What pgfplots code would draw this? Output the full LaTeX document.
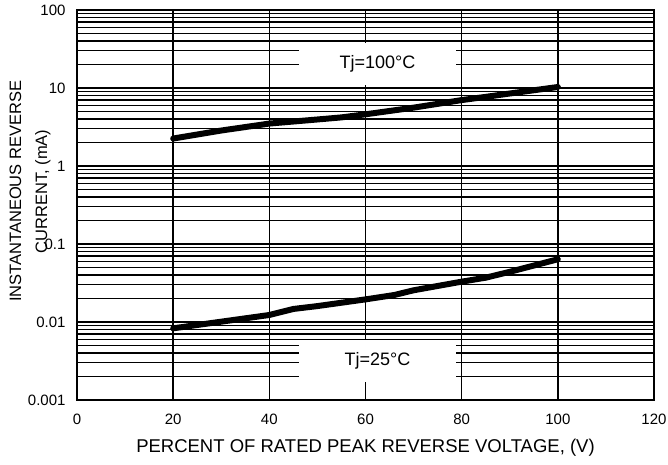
\documentclass[border=0pt]{standalone}
\usepackage{pgfplots}
\pgfplotsset{compat=1.18}
\usepackage{fontspec}
\setmainfont{Liberation Sans}

\begin{document}
\begin{tikzpicture}
\begin{axis}[%
name=ax,
scale only axis,
width=577bp, height=390bp,
ymode=log,
xmin=0, xmax=120,
ymin=0.001, ymax=100,
xtick={0,20,...,120},
ytick={0.001,0.01,0.1,1,10,100},
yticklabels={0.001,0.01,0.1,1,10,100},
minor ytick={0.002,0.003,0.004,0.005,0.006,0.007,0.008,0.009,
 0.02,0.03,0.04,0.05,0.06,0.07,0.08,0.09,
 0.2,0.3,0.4,0.5,0.6,0.7,0.8,0.9,
 2,3,4,5,6,7,8,9,
 20,30,40,50,60,70,80,90},
xmajorgrids, ymajorgrids, yminorgrids,
major grid style={black, line width=1.4pt},
minor grid style={black, line width=1.4pt},
axis line style={black, line width=2pt},
major tick length=0pt, minor tick length=0pt,
/pgf/number format/assume math mode=true,
tick label style={font=\fontsize{15bp}{17bp}\selectfont},
yticklabel style={xshift=-8bp},
xticklabel style={yshift=-11bp},
xlabel={PERCENT OF RATED PEAK REVERSE VOLTAGE, (V)},
xlabel style={font=\fontsize{18.5bp}{21bp}\selectfont, yshift=-7bp},
ylabel={INSTANTANEOUS REVERSE\\CURRENT, (mA)},
every axis y label/.style={at={(axis description cs:-0.0815,0.535)}, rotate=90,
 anchor=center, align=center,
 font=\fontsize{16.5bp}{26bp}\selectfont},
]
\addplot [black, line width=6pt, line cap=round, line join=round] coordinates {
(20,2.25) (30,2.85) (40,3.5) (50,3.95) (55,4.2) (60,4.6)
(70,5.6) (80,7.0) (85,7.7) (90,8.5) (100,10.3)
};
\addplot [black, line width=6pt, line cap=round, line join=round] coordinates {
(20,0.0083) (30,0.0101) (40,0.0123) (45,0.0147) (50,0.016) (60,0.0195)
(66,0.0222) (70,0.0255) (80,0.0329) (85,0.037) (90,0.044) (100,0.0637)
};
\node[fill=white, inner sep=0pt, minimum width=157bp, minimum height=42bp,
 font=\fontsize{18bp}{20bp}\selectfont] at (rel axis cs:0.5208,0.8615) {Tj=100°C};
\node[fill=white, inner sep=0pt, minimum width=157bp, minimum height=42bp,
 font=\fontsize{18bp}{20bp}\selectfont] at (rel axis cs:0.5208,0.1) {Tj=25°C};
\end{axis}
\pgfresetboundingbox
\path[use as bounding box] ([shift={(-77bp,-65bp)}]ax.south west)
 rectangle ([shift={(14bp,10bp)}]ax.north east);
\end{tikzpicture}
\end{document}
